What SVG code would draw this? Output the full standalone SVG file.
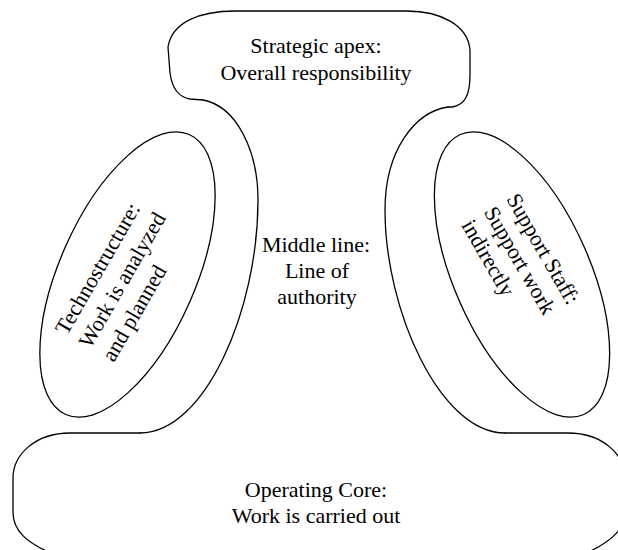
<svg xmlns="http://www.w3.org/2000/svg" width="618" height="550" viewBox="0 0 618 550">
  <style>
    .outline { fill: none; stroke: #000; stroke-width: 1.3; stroke-linejoin: round; stroke-linecap: round; }
    .lbl { font-family: "Liberation Serif", "Times New Roman", serif; font-size: 22px; fill: #000; }
    .c { text-anchor: middle; }
  </style>
  <rect width="618" height="550" fill="#fff"/>
  <g id="apex">
    <path class="outline" d="M 203,100 L 190,99 C 178,97 172,88 170,73 L 168,47 C 172,22 200,11 235,11 L 407,11 C 440,11 468,25 470,50 L 470,75 C 470,95 465,105 452,107 L 448,107"/>
    <text class="lbl c" x="316" y="53">Strategic apex:</text>
    <text class="lbl c" x="316" y="80">Overall responsibility</text>
  </g>
  <g id="middle-line">
    <path class="outline" d="M 203,100 C 236,106 258,150 258,200 C 258,310 205,433 140,433 M 448,107 C 415,112 385,150 385,210 C 385,310 440,433 505,433"/>
    <text class="lbl c" x="316" y="252">Middle line:</text>
    <text class="lbl c" x="317" y="278">Line of</text>
    <text class="lbl c" x="317" y="304">authority</text>
  </g>
  <g id="operating-core">
    <path class="outline" d="M 140,433 L 70,433 C 35,433 13,455 13,478 L 13,512 C 13,530 25,543 58,556 L 580,556 C 610,543 625,530 625,512 L 625,478 C 625,455 603,433 568,433 L 505,433"/>
    <text class="lbl c" x="316" y="497">Operating Core:</text>
    <text class="lbl c" x="316" y="523">Work is carried out</text>
  </g>
  <g id="technostructure">
    <ellipse class="outline" cx="127.5" cy="274.5" rx="153" ry="68" transform="rotate(-66.2 127.5 274.5)"/>
    <g transform="translate(67,336) rotate(-60)">
      <text class="lbl" x="0" y="0">Technostructure:</text>
      <text class="lbl" x="0" y="27">Work is analyzed</text>
      <text class="lbl" x="0" y="54">and planned</text>
    </g>
  </g>
  <g id="support-staff">
    <ellipse class="outline" cx="522" cy="274.5" rx="153" ry="68" transform="rotate(66.2 522 274.5)"/>
    <g transform="translate(506,199) rotate(60)">
      <text class="lbl" x="0" y="0">Support Staff:</text>
      <text class="lbl" x="0" y="26">Support work</text>
      <text class="lbl" x="0" y="52">indirectly</text>
    </g>
  </g>
</svg>
